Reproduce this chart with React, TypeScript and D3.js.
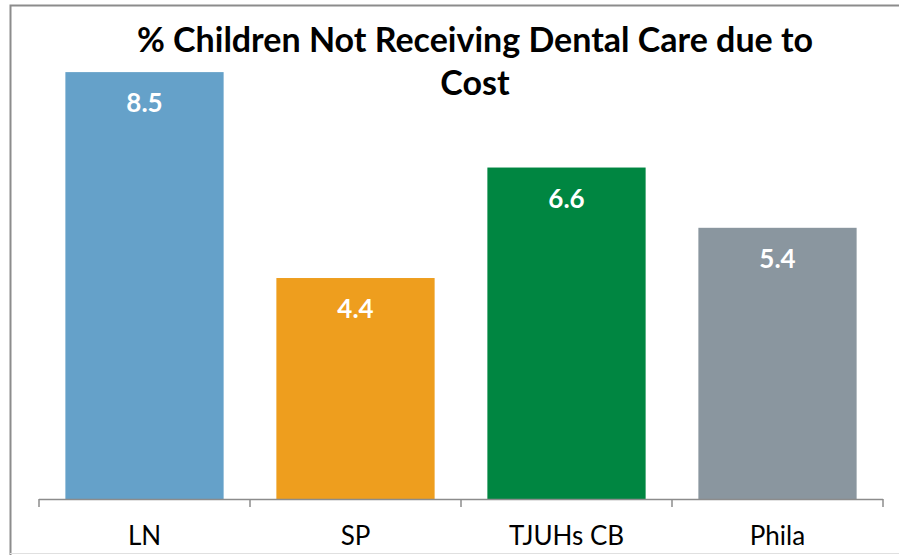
import { useEffect, useRef } from "react"
import * as d3 from "d3"

const categories = ["LN", "SP", "TJUHs CB", "Phila"]
const values = [8.5, 4.4, 6.6, 5.4]
const barColors = ["#65A1C9", "#EE9E1E", "#008641", "#8A969F"]
const titleLines = ["% Children Not Receiving Dental Care due to", "Cost"]

const WIDTH = 899
const HEIGHT = 555

export default function App() {
  const svgRef = useRef<SVGSVGElement>(null)

  useEffect(() => {
    const svg = d3.select(svgRef.current)
    svg.selectAll("*").remove()

    const margin = { top: 47, right: 16, bottom: 56, left: 39 }
    const baseline = HEIGHT - margin.bottom

    // frame
    svg.append("rect").attr("width", WIDTH).attr("height", HEIGHT).attr("fill", "#fff")
    svg.append("path")
      .attr("d", `M10.5,${HEIGHT} V5.5 H${WIDTH}`)
      .attr("fill", "none")
      .attr("stroke", "#8c8c8c")
      .attr("stroke-width", 2)
    svg.append("line")
      .attr("x1", 10).attr("x2", WIDTH)
      .attr("y1", 553.5).attr("y2", 553.5)
      .attr("stroke", "#e0e0e0")

    const x = d3
      .scaleBand<string>()
      .domain(categories)
      .range([margin.left, WIDTH - margin.right])
      .paddingInner(0.25)
      .paddingOuter(0.125)

    const y = d3.scaleLinear().domain([0, 9]).range([baseline, margin.top])

    const g = svg.append("g")

    g.selectAll("rect.bar")
      .data(values)
      .join("rect")
      .attr("class", "bar")
      .attr("x", (_, i) => x(categories[i])!)
      .attr("width", x.bandwidth())
      .attr("y", (d) => y(d))
      .attr("height", (d) => baseline - y(d))
      .attr("fill", (_, i) => barColors[i])

    g.selectAll("text.val")
      .data(values)
      .join("text")
      .attr("class", "val")
      .attr("x", (_, i) => x(categories[i])! + x.bandwidth() / 2)
      .attr("y", (d) => y(d) + 40)
      .attr("text-anchor", "middle")
      .attr("fill", "#fff")
      .attr("font-family", "Lato, 'Open Sans', sans-serif")
      .attr("font-weight", "bold")
      .attr("font-size", 26)
      .text((d) => d.toFixed(1))

    // axis with ticks at band boundaries
    const step = x.step()
    const x0 = margin.left
    const edges = d3.range(categories.length + 1).map((i) => x0 + i * step)
    g.append("line")
      .attr("x1", x0).attr("x2", edges[edges.length - 1])
      .attr("y1", baseline + 0.5).attr("y2", baseline + 0.5)
      .attr("stroke", "#8c8c8c")
      .attr("stroke-width", 1.5)
    g.selectAll("line.tick")
      .data(edges)
      .join("line")
      .attr("class", "tick")
      .attr("x1", (d) => d).attr("x2", (d) => d)
      .attr("y1", baseline).attr("y2", baseline + 8)
      .attr("stroke", "#8c8c8c")
      .attr("stroke-width", 1.5)

    g.selectAll("text.cat")
      .data(categories)
      .join("text")
      .attr("class", "cat")
      .attr("x", (d) => x(d)! + x.bandwidth() / 2)
      .attr("y", 545)
      .attr("text-anchor", "middle")
      .attr("fill", "#000")
      .attr("font-family", "Lato, 'Open Sans', sans-serif")
      .attr("font-size", 26)
      .text((d) => d)

    svg.append("text")
      .attr("x", 475)
      .attr("text-anchor", "middle")
      .attr("font-family", "Lato, 'Open Sans', sans-serif")
      .attr("font-weight", "bold")
      .attr("font-size", 34)
      .attr("fill", "#000")
      .selectAll("tspan")
      .data(titleLines)
      .join("tspan")
      .attr("x", 475)
      .attr("y", (_, i) => 52 + i * 43)
      .text((d) => d)
  }, [])

  return (
    <svg
      ref={svgRef}
      width={WIDTH}
      height={HEIGHT}
      style={{ position: "absolute", left: 0, top: 0 }}
    />
  )
}
